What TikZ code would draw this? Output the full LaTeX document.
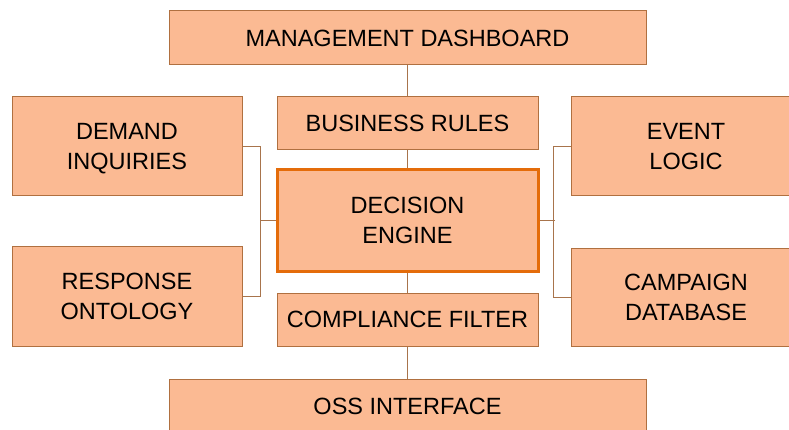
\documentclass[tikz,border=0pt]{standalone}
\usepackage{fontspec}
\setmainfont{Liberation Sans}
\definecolor{boxfill}{RGB}{251,186,147}
\definecolor{boxdraw}{RGB}{176,112,64}
\definecolor{linkcol}{RGB}{168,116,76}
\definecolor{enginedraw}{RGB}{228,108,10}
\newcommand{\twolines}[2]{\raisebox{-8.4pt}[0pt][0pt]{\begin{tabular}{@{}c@{}}#1\\#2\end{tabular}}}
\tikzset{
  blk/.style={draw=boxdraw, fill=boxfill, line width=1pt, rectangle, align=center,
    inner sep=0pt, font=\fontsize{23.5}{30}\selectfont},
  link/.style={draw=linkcol, line width=1.1pt},
}
\begin{document}
\begin{tikzpicture}[x=1pt,y=-1pt]
\useasboundingbox (0,0) rectangle (789,430);
\fill[white] (0,0) rectangle (789,430);
\node[blk, minimum width=477pt, minimum height=54pt] (mgmt) at (407.5,38) {MANAGEMENT DASHBOARD};
\node[blk, minimum width=261pt, minimum height=53pt] (rules) at (407.5,123.5) {BUSINESS RULES};
\node[blk, minimum width=261pt, minimum height=101pt, draw=enginedraw, line width=3pt] (engine) at (407.5,220.5) {\twolines{DECISION}{ENGINE}};
\node[blk, minimum width=261pt, minimum height=53pt] (comp) at (407.5,319.5) {COMPLIANCE FILTER};
\node[blk, minimum width=477pt, minimum height=54pt] (oss) at (407.5,406) {OSS INTERFACE};
\node[blk, minimum width=230pt, minimum height=99pt] (demand) at (127,146.5) {\twolines{DEMAND}{INQUIRIES}};
\node[blk, minimum width=230pt, minimum height=99pt] (response) at (127,296.5) {\twolines{RESPONSE}{ONTOLOGY}};
\node[blk, minimum width=230pt, minimum height=99pt] (event) at (686,146.5) {\twolines{EVENT}{LOGIC}};
\node[blk, minimum width=230pt, minimum height=98pt] (campaign) at (686,297.5) {\twolines{CAMPAIGN}{DATABASE}};
\draw[link] (mgmt.south) -- (rules.north);
\draw[link] (rules.south) -- (engine.north);
\draw[link] (engine.south) -- (comp.north);
\draw[link] (comp.south) -- (oss.north);
\draw[link] (demand.east) -- ++(18,0) |- (response.east);
\draw[link] (engine.west) -- ++(-16,0);
\draw[link] (event.west) -- ++(-17,0) |- (campaign.west);
\draw[link] (engine.east) -- ++(15,0);
\end{tikzpicture}
\end{document}
